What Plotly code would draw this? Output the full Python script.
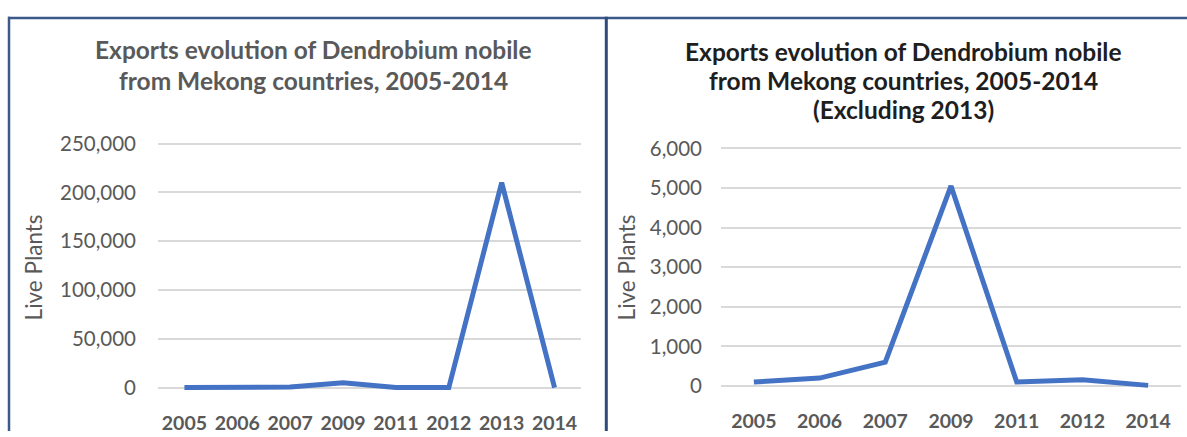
import plotly.graph_objects as go

# Exports of Dendrobium nobile (live plants) from Mekong countries
years = ["2005", "2006", "2007", "2009", "2011", "2012", "2013", "2014"]
live_plants = [100, 200, 600, 5050, 100, 160, 210000, 15]

# Same series with the 2013 outlier removed
years_ex = [y for y in years if y != "2013"]
live_plants_ex = [v for y, v in zip(years, live_plants) if y != "2013"]

title_lines_left = ["Exports evolution of Dendrobium nobile",
                    "from Mekong countries, 2005-2014"]
title_lines_right = ["Exports evolution of Dendrobium nobile",
                     "from Mekong countries, 2005-2014",
                     "(Excluding 2013)"]
y_title = "Live Plants"

W, H = 1187, 437
FONT = "Lato"
LINE_BLUE = "#4472C4"
GRID = "#D9D9D9"
TEXT_GRAY = "#595959"
FRAME = "#3B5A8A"


def px_x(p):
    return p / W


def px_y(p):
    return (H - p) / H


fig = go.Figure()

fig.add_trace(go.Scatter(x=years, y=live_plants, mode="lines",
                         line=dict(color=LINE_BLUE, width=5),
                         xaxis="x", yaxis="y", showlegend=False,
                         hoverinfo="skip"))
fig.add_trace(go.Scatter(x=years_ex, y=live_plants_ex, mode="lines",
                         line=dict(color=LINE_BLUE, width=5),
                         xaxis="x2", yaxis="y2", showlegend=False,
                         hoverinfo="skip"))

ytick_font = dict(family=FONT, size=20.5, color=TEXT_GRAY)
xtick_font = dict(family=FONT, size=19.5, color=TEXT_GRAY, weight="bold")

xcommon = dict(type="category", showgrid=False, zeroline=False,
               showline=False, ticks="", tickfont=xtick_font,
               fixedrange=True)
ycommon = dict(showgrid=True, gridcolor=GRID, gridwidth=1.5,
               zeroline=False, showline=False, ticks="",
               tickfont=ytick_font, tickformat=",d", fixedrange=True)

fig.update_layout(
    width=W, height=H,
    margin=dict(l=0, r=0, t=0, b=0),
    paper_bgcolor="white", plot_bgcolor="white",
    xaxis=dict(xcommon, domain=[px_x(158), px_x(581)],
               range=[-0.5, 7.5], anchor="y", ticklabelstandoff=17),
    yaxis=dict(ycommon, domain=[px_y(397.3), px_y(135)],
               range=[-5000, 255000], dtick=50000, anchor="x",
               ticklabelstandoff=21),
    xaxis2=dict(xcommon, domain=[px_x(721), px_x(1181)],
                range=[-0.5, 6.5], anchor="y2", ticklabelstandoff=17),
    yaxis2=dict(ycommon, domain=[px_y(395.4), px_y(140.1)],
                range=[-120, 6120], dtick=1000, anchor="x2",
                ticklabelstandoff=18),
)

annotations = []
for i, line in enumerate(title_lines_left):
    annotations.append(dict(
        text=line, x=px_x(313), y=px_y([43, 75][i]),
        xref="paper", yref="paper", xanchor="center", yanchor="middle",
        showarrow=False,
        font=dict(family=FONT, size=24.5, color=TEXT_GRAY, weight="bold")))
for i, line in enumerate(title_lines_right):
    annotations.append(dict(
        text=line, x=px_x(903), y=px_y([45, 75, 105][i]),
        xref="paper", yref="paper", xanchor="center", yanchor="middle",
        showarrow=False,
        font=dict(family=FONT, size=24.5, color="#1E1E1E", weight="bold")))
for xc in (33, 626):
    annotations.append(dict(
        text=y_title, x=px_x(xc), y=px_y(268), textangle=-90,
        xref="paper", yref="paper", xanchor="center", yanchor="middle",
        showarrow=False, font=dict(family=FONT, size=22.5, color=TEXT_GRAY)))
fig.update_layout(annotations=annotations)

# Panel frame: top rule, left edge and divider between the two charts
shapes = [
    dict(type="line", xref="paper", yref="paper",
         x0=px_x(8), x1=1, y0=px_y(10.3), y1=px_y(10.3),
         line=dict(color=FRAME, width=2.5)),
    dict(type="line", xref="paper", yref="paper",
         x0=px_x(9), x1=px_x(9), y0=px_y(9), y1=0,
         line=dict(color=FRAME, width=2.5)),
    dict(type="line", xref="paper", yref="paper",
         x0=px_x(606.3), x1=px_x(606.3), y0=px_y(9), y1=0,
         line=dict(color="#2E4C7C", width=3)),
]
fig.update_layout(shapes=shapes)

fig.write_html("out.html")
